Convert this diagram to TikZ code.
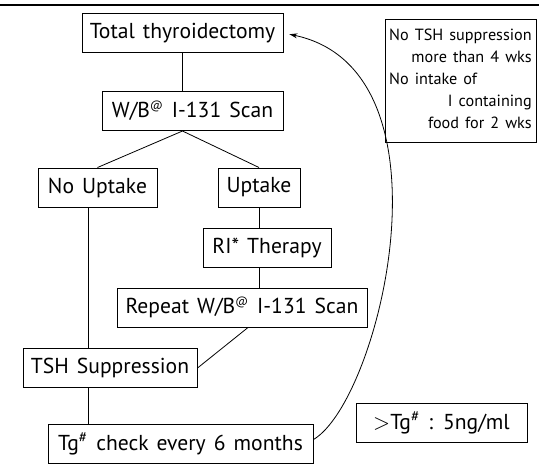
\documentclass[tikz,border=0pt]{standalone}
\usepackage{fontspec}
\setmainfont{PT Sans}[WordSpace=1.4]
\usetikzlibrary{arrows.meta}
\newcommand{\atsup}{\textsuperscript{\fontsize{6}{6}\selectfont @}}

\begin{document}
\begin{tikzpicture}[
    x=0.5pt, y=-0.5pt,
    box/.style={draw, line width=0.5pt, inner sep=0pt, minimum height=19.5pt, font=\fontsize{10.8}{12}\selectfont},
    note/.style={draw, line width=0.5pt, inner sep=0pt, minimum height=61.5pt, minimum width=75.5pt, font=\fontsize{8.1}{11}\selectfont},
    link/.style={line width=0.4pt}
]
\useasboundingbox (0,0) rectangle (539,468);

% Rule at the top
\draw[line width=0.8pt] (0,5) -- (539,5);

% Nodes
\node[box, minimum width=100.5pt] (tot) at (182.5,33) {Total thyroidectomy};
\node[box, minimum width=90.5pt] (wb) at (192.5,111) {W/B\atsup{} I-131 Scan};
\node[box, minimum width=59.5pt] (nou) at (97.5,187.5) {No Uptake};
\node[box, minimum width=41pt] (up) at (259,187.5) {Uptake};
\node[box, minimum width=64pt] (ri) at (267,248) {RI* Therapy};
\node[box, minimum width=125pt] (rep) at (242,307.5) {Repeat W/B\atsup{} I-131 Scan};
\node[box, minimum width=87pt] (tsh) at (110,368) {TSH Suppression};
\node[box, minimum width=132.5pt] (tg) at (180.5,443.5) {Tg\textsuperscript{\#} check every 6 months};
\node[box, minimum width=85.5pt] (gt) at (441.5,422.5) {$>$Tg\textsuperscript{\#} : 5ng/ml};
\node[note] (nb) at (460.5,80.5) {\begin{tabular}{@{}l@{}}
    No TSH suppression\\
    \hfill more than 4 wks\\
    No intake of\\
    \hfill I containing\\
    \hfill food for 2 wks
  \end{tabular}};

% Helper for the left spine
\coordinate (sp) at (88,0);

% Edges
\draw[link] (tot.south) -- (tot.south |- wb.north);
\draw[link] (tot.south |- wb.south) -- (nou.north);
\draw[link] (tot.south |- wb.south) -- (up.north);
\draw[link] (up.south) -- (up.south |- ri.north);
\draw[link] (up.south |- ri.south) -- (up.south |- rep.north);
\draw[link] ([xshift=3pt]rep.south) -- (tsh.east);
\draw[link] (nou.south -| sp) -- (tsh.north -| sp);
\draw[link] (tsh.south -| sp) -- (tg.north -| sp);

% Feedback to surgery
\draw[link, -{Stealth[length=4pt, width=2.5pt]}, shorten >=3pt] ([yshift=2pt]tg.east) .. controls (380,400) and (460,70) .. (tot.east);

\end{tikzpicture}
\end{document}
